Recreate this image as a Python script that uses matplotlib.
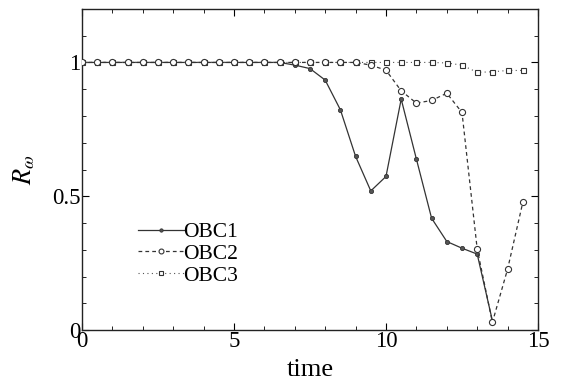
import numpy as np
import matplotlib.pyplot as plt
from matplotlib.ticker import MultipleLocator

plt.rcParams['font.family'] = ['Liberation Serif', 'DejaVu Serif']
plt.rcParams['mathtext.fontset'] = 'stix'

# time samples (every 0.5)
t = np.arange(0, 15, 0.5)

# R_omega values
obc1 = [1.0, 1.0, 1.0, 1.0, 1.0, 1.0, 1.0, 1.0, 1.0, 1.0,
        1.0, 1.0, 1.0, 1.0, 0.99, 0.977, 0.934, 0.823, 0.649, 0.52,
        0.574, 0.863, 0.639, 0.418, 0.331, 0.306, 0.284, 0.035]
obc2 = [1.0, 1.0, 1.0, 1.0, 1.0, 1.0, 1.0, 1.0, 1.0, 1.0,
        1.0, 1.0, 1.0, 1.0, 1.0, 1.0, 1.0, 1.0, 1.0, 0.99,
        0.971, 0.894, 0.848, 0.858, 0.885, 0.813, 0.303, 0.029, 0.228, 0.477]
obc3 = [1.0, 1.0, 1.0, 1.0, 1.0, 1.0, 1.0, 1.0, 1.0, 1.0,
        1.0, 1.0, 1.0, 1.0, 1.0, 1.0, 1.0, 1.0, 1.0, 1.0,
        1.0, 1.0, 1.0, 1.0, 0.998, 0.99, 0.963, 0.965, 0.97, 0.97]

fig = plt.figure(figsize=(5.63, 3.87), dpi=100)
ax = fig.add_axes([0.1456, 0.147, 0.81, 0.83])

l1, = ax.plot(t[:len(obc1)], obc1, ls='-', color='#333333', lw=0.9,
              marker='o', ms=3.0, mfc='#555555', mec='#333333', mew=0.6, label='OBC1', zorder=2)
l3, = ax.plot(t[:len(obc3)], obc3, ls=(0, (1, 3)), color='#555555', lw=0.8,
              marker='s', ms=3.6, mfc='white', mec='#333333', mew=0.8, label='OBC3', zorder=3)
l2, = ax.plot(t[:len(obc2)], obc2, ls=(0, (3, 2.5)), color='#333333', lw=0.9,
              marker='o', ms=4.4, mfc='white', mec='#333333', mew=0.8, label='OBC2', zorder=4)

ax.set_xlim(0, 15)
ax.set_ylim(0, 1.2)
ax.xaxis.set_major_locator(MultipleLocator(5))
ax.xaxis.set_minor_locator(MultipleLocator(1))
ax.set_yticks([0, 0.5, 1])
ax.set_yticklabels(['0', '0.5', '1'])
ax.yaxis.set_minor_locator(MultipleLocator(0.1))
ax.tick_params(which='both', direction='in', top=True, right=True, labelsize=16.5, pad=1)
ax.tick_params(which='major', length=5)
ax.tick_params(which='minor', length=3)
for s in ax.spines.values():
    s.set_linewidth(1.0)
    s.set_color('#222222')

ax.set_xlabel('time', fontsize=19, labelpad=5)
ax.set_ylabel(r'$R_{\omega}$', fontsize=19, labelpad=11)

ax.legend([l1, l2, l3], ['OBC1', 'OBC2', 'OBC3'], loc='upper left',
          bbox_to_anchor=(0.10, 0.37), frameon=False, fontsize=15.5,
          handlelength=2.1, handletextpad=0.0, labelspacing=0.08, borderpad=0,
          markerscale=0.8)

fig.savefig('out.png', dpi=100)
